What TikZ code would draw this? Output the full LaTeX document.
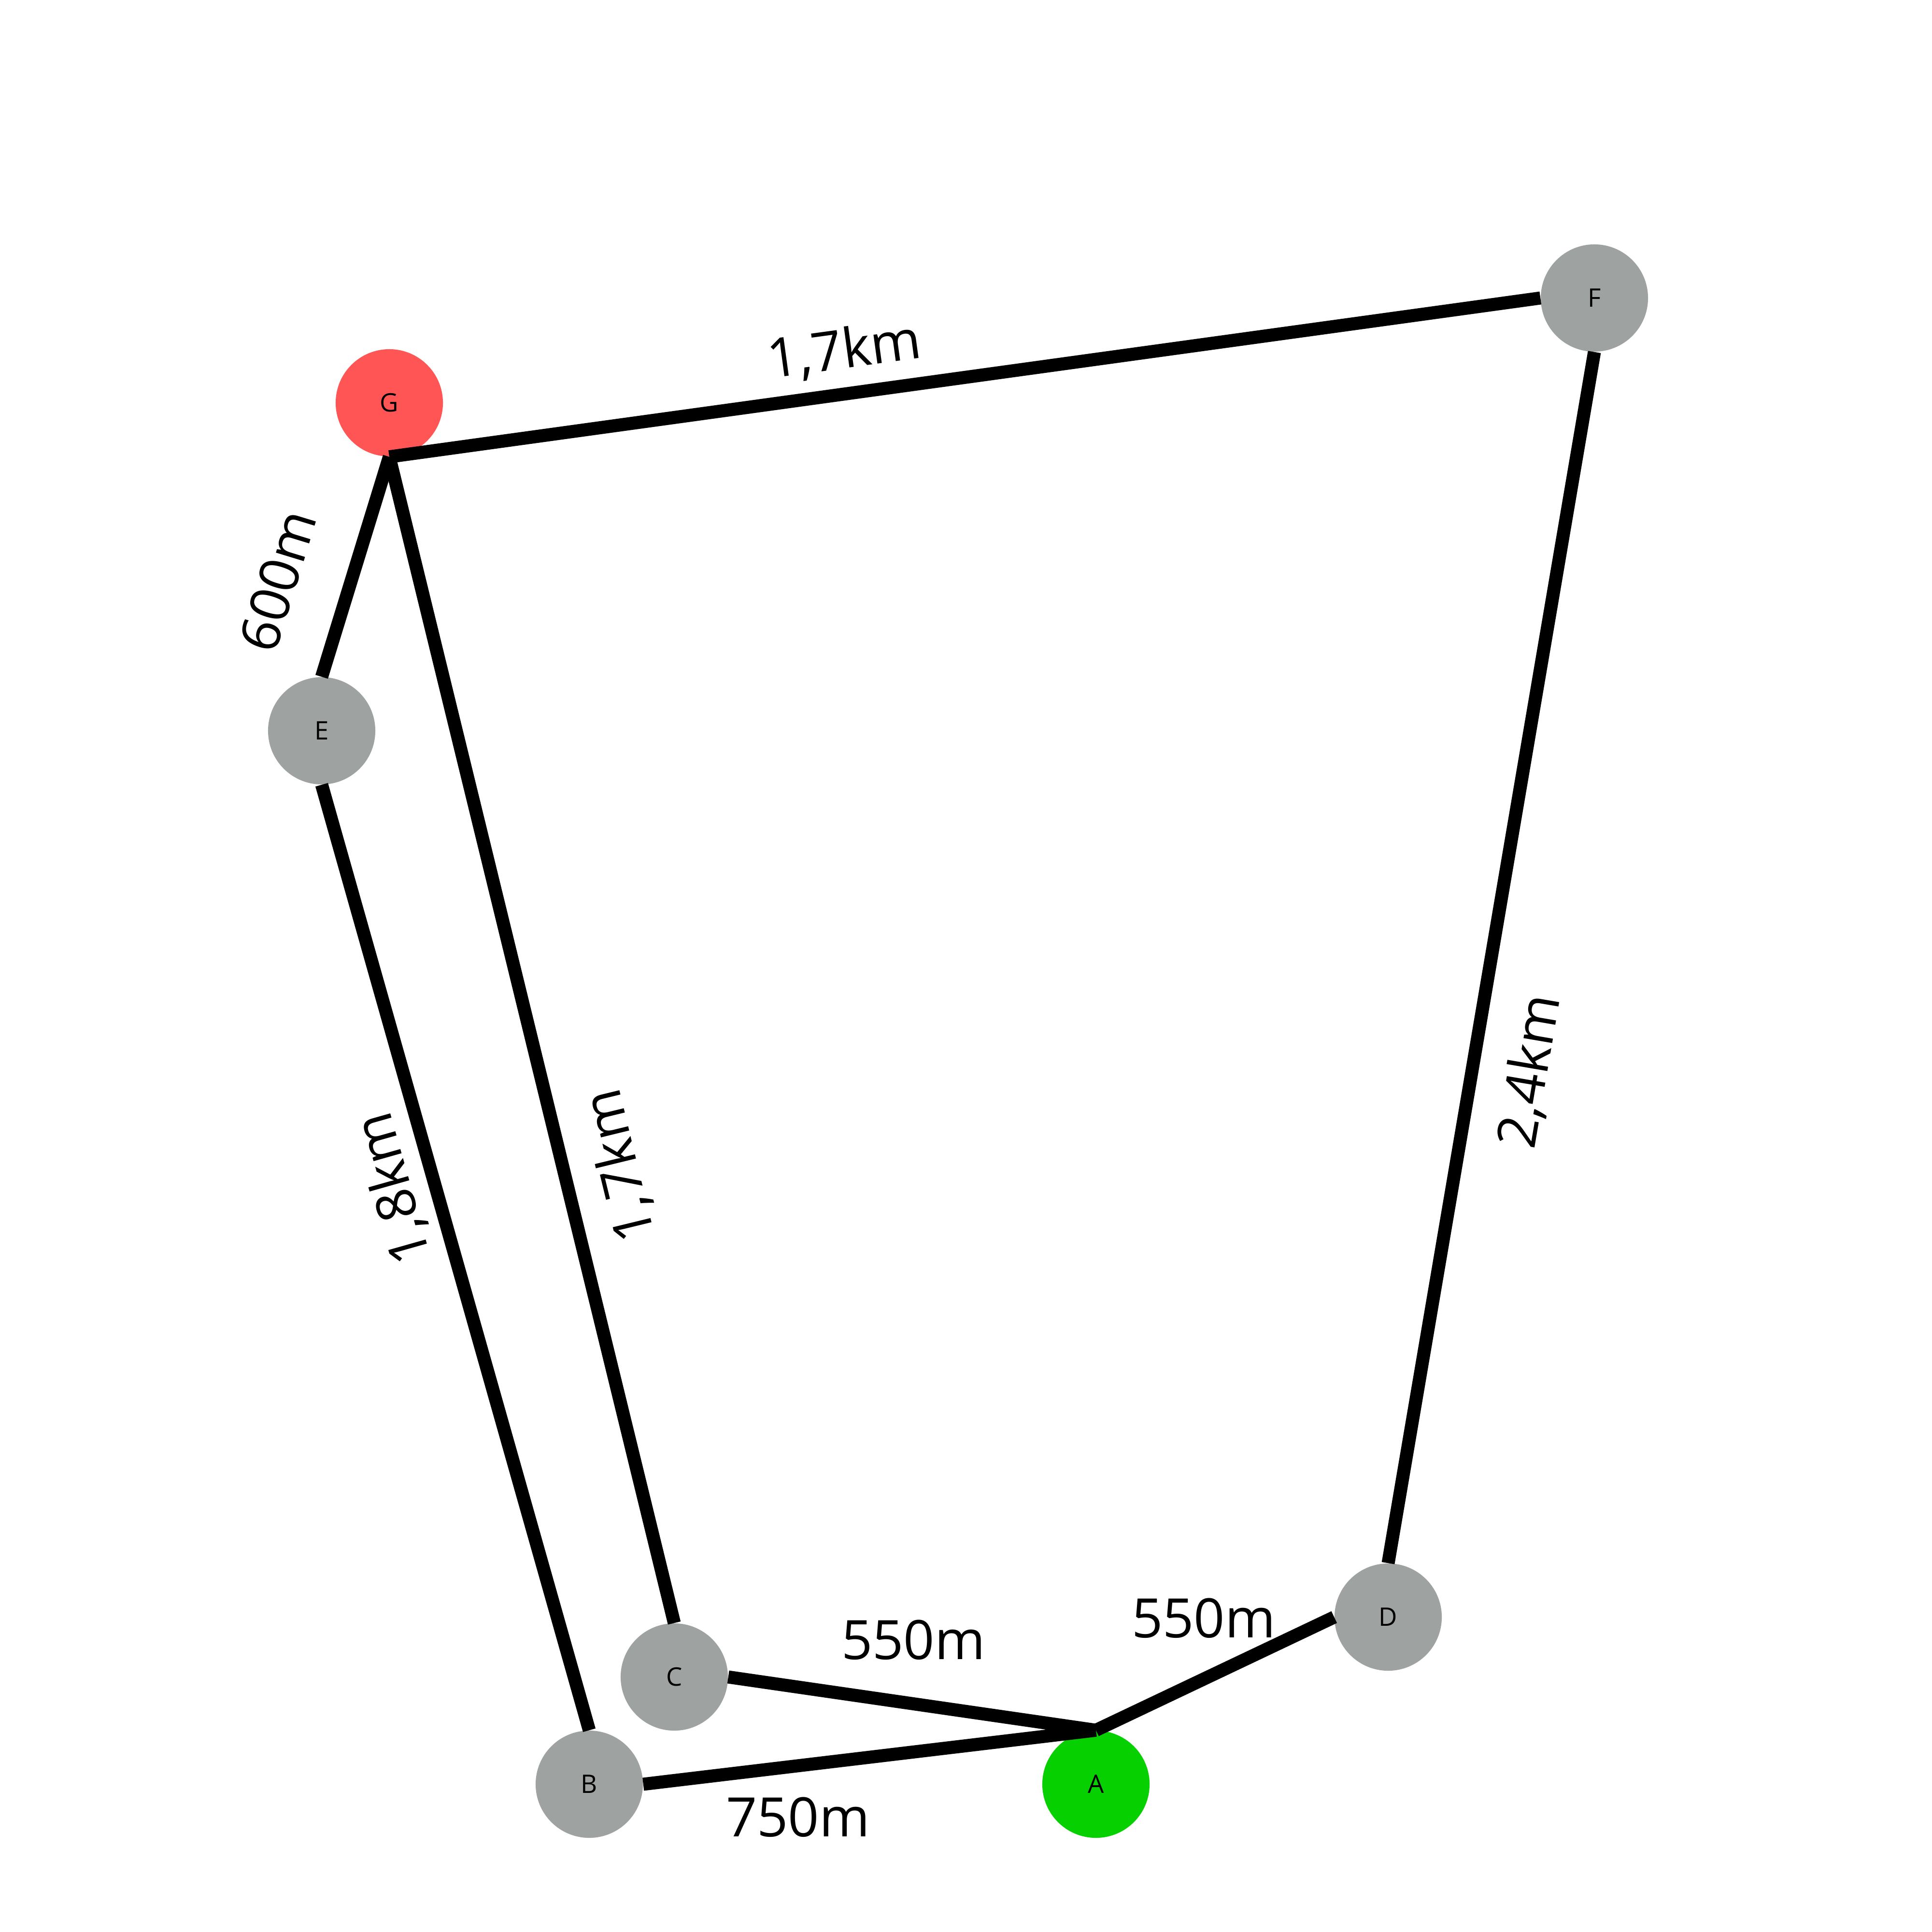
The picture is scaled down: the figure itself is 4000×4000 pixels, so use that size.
\documentclass[tikz,border=0pt]{standalone}
\usepackage{fontspec}
\setmainfont{Open Sans}
\usetikzlibrary{positioning}
\definecolor{StartGreen}{RGB}{6,208,0}
\definecolor{GoalRed}{RGB}{255,85,85}
\definecolor{StopGrey}{RGB}{158,162,160}

\begin{document}
\begin{tikzpicture}[x=0.01cm,y=-0.01cm,
  stop/.style={circle,fill=StopGrey,minimum size=2.22cm,inner sep=0pt,
    font=\fontsize{15}{18}\selectfont},
  road/.style={line width=0.27cm},
  dist/.style={font=\fontsize{32}{38}\selectfont,inner sep=0pt}]
  \useasboundingbox (0,0) rectangle (4000,4000);
  % stops
  \node[stop,fill=GoalRed] (G) at (806,834) {G};
  \node[stop] (F) at (3301,617) {F};
  \node[stop] (E) at (666,1513) {E};
  \node[stop] (C) at (1396,3472) {C};
  \node[stop] (B) at (1220,3694) {B};
  \node[stop,fill=StartGreen] (A) at (2269,3694) {A};
  \node[stop] (D) at (2874,3348) {D};
  % roads
  \draw[road] (G.south) -- (F.west);
  \draw[road] (G.south) -- (E.north);
  \draw[road] (G.south) -- (C.north);
  \draw[road] (E.south) -- (B.north);
  \draw[road] (B.east) -- (A.north);
  \draw[road] (C.east) -- (A.north);
  \draw[road] (A.north) -- (D.west);
  \draw[road] (D.north) -- (F.south);
  % distances
  \node[dist,rotate=7.8] (gf) at (1748,727) {1,7km};
  \node[dist,rotate=73] (ge) at (575,1202) {600m};
  \node[dist,rotate=105.8] (eb) at (815,2460) {1,8km};
  \node[dist,rotate=103.7] (gc) at (1284,2413) {1,7km};
  \node[dist,rotate=80.3] (df) at (3168,2218) {2,4km};
  \node[dist] (ca) at (1891,3395) {550m};
  \node[dist] (ad) at (2492,3350) {550m};
  \node[dist] (ba) at (1652,3762) {750m};
\end{tikzpicture}
\end{document}
